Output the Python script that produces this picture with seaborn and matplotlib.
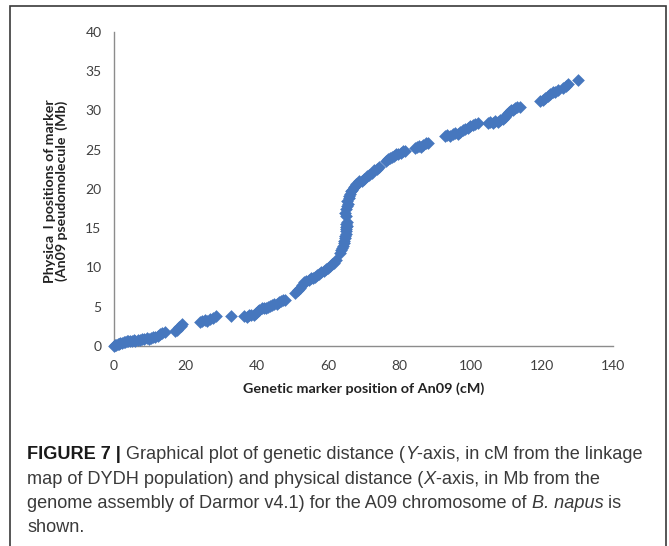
import matplotlib
matplotlib.use("Agg")
import matplotlib.pyplot as plt
import seaborn as sns
import pandas as pd
from matplotlib.patches import Rectangle

# marker positions: genetic (cM) vs physical (Mb)
cm_pos = [
    0.0, 0.3, 0.6, 1.0, 1.4, 1.8, 2.2, 2.7, 3.1, 3.6, 4.0, 4.5, 5.0, 5.5, 6.0, 6.6,
    7.2, 7.8, 8.5, 9.2, 9.8, 10.4, 11.0, 11.6, 12.3, 13.0, 13.6, 14.2,
    17.2, 17.8, 18.3, 18.8, 19.2,
    24.0, 24.6, 25.4, 26.2, 26.8, 27.8, 28.6,
    32.8,
    36.5, 37.2, 37.8, 38.5, 39.2, 39.8, 40.3, 40.8, 41.4, 42.0, 42.6, 43.2, 43.8,
    44.4, 45.0, 45.6, 46.2, 46.8, 47.4, 48.0,
    50.8, 51.5, 52.2, 52.8, 53.4, 54.0, 54.6, 55.2, 55.8, 56.4, 57.0, 57.6, 58.2,
    58.8, 59.4, 60.0, 60.6, 61.2, 61.8, 62.4,
    63.4, 63.8, 64.0, 64.3, 64.5, 64.6, 64.8, 64.9, 65.0, 65.1, 65.2, 65.0, 65.3,
    65.2, 65.4,
    65.0, 64.8, 65.1, 65.3, 65.6, 65.4, 65.8, 66.0, 66.3, 66.6, 66.9, 67.2, 67.6,
    68.0, 68.4, 68.8,
    69.5, 70.2, 70.9, 71.6, 72.3, 73.0, 73.7, 74.3,
    76.2, 76.8, 77.4, 78.0, 78.6, 79.2, 79.8, 80.4, 81.0, 81.6,
    84.4, 85.0, 85.6, 86.2, 86.8, 87.4, 88.0,
    92.8, 93.5, 94.2, 95.0, 95.8, 96.5, 97.2, 97.9, 98.6, 99.3, 100.0, 100.7,
    101.4, 102.1,
    104.8, 105.5, 106.2, 106.9, 107.6, 108.3, 109.0, 109.6, 110.2, 110.8, 111.4,
    112.0, 112.6, 113.2, 113.8,
    119.6, 120.3, 121.0, 121.7, 122.4, 123.1, 123.8, 124.5, 126.0, 126.8, 127.4,
    130.3,
]
mb_pos = [
    0.0, 0.1, 0.15, 0.25, 0.3, 0.35, 0.4, 0.5, 0.55, 0.6, 0.65, 0.6, 0.7, 0.75, 0.7, 0.8,
    0.75, 0.85, 0.9, 1.0, 0.95, 1.05, 1.15, 1.2, 1.3, 1.5, 1.7, 1.8,
    1.9, 2.1, 2.4, 2.6, 2.8,
    3.1, 3.2, 3.3, 3.2, 3.4, 3.6, 3.8,
    3.8,
    3.8, 3.7, 3.9, 3.9, 4.0, 4.2, 4.5, 4.6, 4.8, 4.9, 4.9, 5.0, 5.1,
    5.2, 5.3, 5.4, 5.6, 5.7, 5.8, 5.9,
    6.8, 7.1, 7.4, 7.8, 8.1, 8.3, 8.4, 8.6, 8.7, 8.8, 9.0, 9.2, 9.4,
    9.6, 9.8, 10.0, 10.2, 10.4, 10.6, 10.9,
    11.9, 12.2, 12.5, 12.8, 13.1, 13.4, 13.7, 14.0, 14.3, 14.6, 14.9, 15.1, 15.3,
    15.6, 15.8,
    16.6, 17.0, 17.4, 17.8, 18.1, 18.5, 18.8, 19.1, 19.4, 19.7, 19.9, 20.2, 20.4,
    20.6, 20.8, 21.0,
    21.0, 21.3, 21.6, 21.8, 22.1, 22.4, 22.6, 22.8,
    23.6, 23.8, 23.9, 24.1, 24.2, 24.4, 24.5, 24.6, 24.8, 24.9,
    25.2, 25.4, 25.5, 25.4, 25.6, 25.8, 25.9,
    26.7, 26.9, 26.8, 27.0, 27.1, 27.0, 27.3, 27.5, 27.6, 27.8, 28.0, 28.2,
    28.3, 28.4,
    28.4, 28.5, 28.4, 28.6, 28.5, 28.8, 28.9, 29.2, 29.5, 29.8, 30.0,
    30.1, 30.3, 30.4, 30.5,
    31.2, 31.4, 31.6, 31.9, 32.1, 32.3, 32.4, 32.6, 32.9, 33.1, 33.4,
    33.9,
]

x_ticks = [0, 20, 40, 60, 80, 100, 120, 140]
y_ticks = [0, 5, 10, 15, 20, 25, 30, 35, 40]

x_label = "Genetic marker position of An09 (cM)"
y_label = "Physica  l positions of marker\n(An09 pseudomolecule  (Mb)"

# caption runs: (text, weight, style)
caption = [
    [("FIGURE 7 |", "bold", "normal"),
     (" Graphical plot of genetic distance (", "normal", "normal"),
     ("Y", "normal", "italic"),
     ("-axis, in cM from the linkage", "normal", "normal")],
    [("map of DYDH population) and physical distance (", "normal", "normal"),
     ("X", "normal", "italic"),
     ("-axis, in Mb from the", "normal", "normal")],
    [("genome assembly of Darmor v4.1) for the A09 chromosome of ", "normal", "normal"),
     ("B. napus", "normal", "italic"),
     (" is", "normal", "normal")],
    [("shown.", "normal", "normal")],
]

W, H = 669, 546

sns.set_theme(style="white")
plt.rcParams["font.family"] = ["Lato", "DejaVu Sans"]

fig = plt.figure(figsize=(W / 100, H / 100), dpi=100)
ax = fig.add_axes([114 / W, 1 - 346 / H, (613 - 114) / W, (346 - 32) / H])

df = pd.DataFrame({"cM": cm_pos, "Mb": mb_pos})
sns.scatterplot(data=df, x="cM", y="Mb", marker="D", s=42, color="#4677BE",
                linewidth=0, clip_on=False, zorder=3, ax=ax)

ax.set_xlim(0, 140)
ax.set_ylim(0, 40)
ax.set_xticks(x_ticks)
ax.set_yticks(y_ticks)
ax.spines["top"].set_visible(False)
ax.spines["right"].set_visible(False)
for s in ["left", "bottom"]:
    ax.spines[s].set_color("#8c8c8c")
    ax.spines[s].set_linewidth(1.0)
ax.tick_params(length=0, labelsize=10, labelcolor="#404040")
ax.tick_params(axis="y", pad=9)
ax.tick_params(axis="x", pad=10)

ax.set_xlabel(x_label, fontsize=10.4, fontweight="bold", color="#222222")
ax.xaxis.label.set_va("center")
ax.xaxis.set_label_coords((364 - 114) / 499, (346 - 389) / 314)
ax.set_ylabel(y_label, fontsize=10.2, fontweight="bold", color="#222222",
              linespacing=1.0, ha="center", va="center")
ax.yaxis.set_label_coords((56 - 114) / 499, (346 - 191) / 314)

# outer frame
fig.patches.append(Rectangle((10 / W, -0.01), (666 - 10) / W, 1 - 6 / H + 0.01,
                             transform=fig.transFigure, fill=False,
                             edgecolor="#3a3a3a", linewidth=1.2))

# caption, rich text drawn run by run
renderer = fig.canvas.get_renderer()
cap_font = ["Liberation Sans", "DejaVu Sans"]


def run_width(text, weight, style, size):
    a = fig.text(0, 0, "|" + text + "|", fontsize=size, fontweight=weight,
                 fontstyle=style, family=cap_font)
    b = fig.text(0, 0, "||", fontsize=size, fontweight=weight,
                 fontstyle=style, family=cap_font)
    w = a.get_window_extent(renderer).width - b.get_window_extent(renderer).width
    a.remove()
    b.remove()
    return w


base = 12
w1 = sum(run_width(t, wt, st, base) for t, wt, st in caption[0])
cap_size = base * (643 - 27) / w1

baselines = [459, 484, 508, 532]
for line, yb in zip(caption, baselines):
    x = 27
    for text, weight, style in line:
        color = "#1a1a1a" if weight == "bold" else "#3a3a3a"
        fig.text(x / W, 1 - yb / H, text, fontsize=cap_size, fontweight=weight,
                 fontstyle=style, family=cap_font, color=color,
                 ha="left", va="baseline")
        x += run_width(text, weight, style, cap_size)

fig.savefig("out.png", dpi=100)
